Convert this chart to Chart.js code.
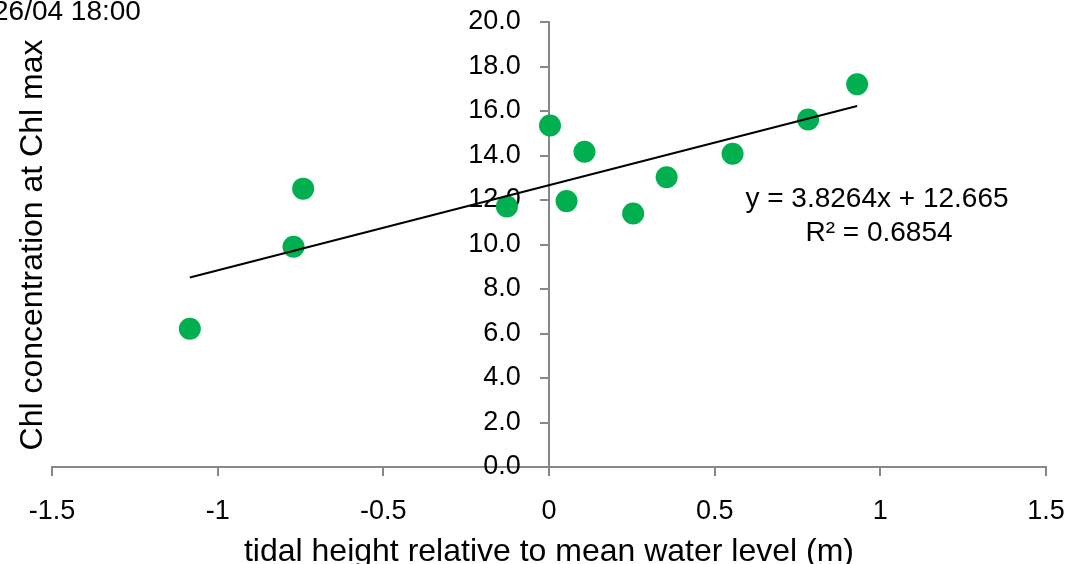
<!DOCTYPE html>
<html>
<head>
<meta charset="utf-8">
<script src="https://cdn.jsdelivr.net/npm/chart.js@4.4.1/dist/chart.umd.min.js"></script>
<style>
  body { margin: 0; background: #fff; }
  #wrap { width: 1082px; height: 564px; }
</style>
</head>
<body>
<div id="wrap"><canvas id="tideChart" width="1082" height="564"></canvas></div>
<script>
/* Data */
const tidal_height = [-1.084, -0.771, -0.742, -0.127, 0.003, 0.053, 0.107, 0.254, 0.355, 0.554, 0.782, 0.930];
const chl_conc = [6.21, 9.90, 12.51, 11.71, 15.35, 11.95, 14.17, 11.39, 13.02, 14.08, 15.62, 17.20];

const x_tick_values = [-1.5, -1, -0.5, 0, 0.5, 1, 1.5];
const x_tick_labels = ['-1.5', '-1', '-0.5', '0', '0.5', '1', '1.5'];
const y_tick_values = [0, 2, 4, 6, 8, 10, 12, 14, 16, 18, 20];
const y_tick_labels = ['0.0', '2.0', '4.0', '6.0', '8.0', '10.0', '12.0', '14.0', '16.0', '18.0', '20.0'];

// trendline as printed on the chart
const trend_slope = 3.8264;
const trend_intercept = 12.665;
const trend_r2 = '0.6854';

const stamp_text = '26/04 18:00';
const x_title = 'tidal height relative to mean water level (m)';
const y_title = 'Chl concentration at Chl max';

/* Document */
const chart_element = document.getElementById('tideChart');
const axis_grey = '#878787';
const font_name = '"Liberation Sans", Arial, sans-serif';

const buildTrend = () => {
  const x_min = Math.min(...tidal_height);
  const x_max = Math.max(...tidal_height);
  return [
    {x: x_min, y: trend_slope * x_min + trend_intercept},
    {x: x_max, y: trend_slope * x_max + trend_intercept}
  ];
};

const buildPoints = () => tidal_height.map((x, i) => ({x: x, y: chl_conc[i]}));

// text that is not tied to a scale: stamp, axis titles, trend equation
const textPlugin = {
  id: 'chartText',
  afterDraw: (chart) => {
    const ctx = chart.ctx;
    const area = chart.chartArea;
    ctx.save();
    ctx.fillStyle = '#000';
    ctx.textBaseline = 'alphabetic';

    ctx.font = '28px ' + font_name;
    ctx.textAlign = 'left';
    ctx.fillText(stamp_text, -7, 20);

    ctx.font = '32px ' + font_name;
    ctx.textAlign = 'center';
    ctx.fillText(x_title, (area.left + area.right) / 2, 561);

    ctx.translate(42, 245);
    ctx.rotate(-Math.PI / 2);
    ctx.fillText(y_title, 0, 0);
    ctx.restore();

    ctx.save();
    ctx.fillStyle = '#000';
    ctx.font = '28px ' + font_name;
    ctx.textAlign = 'center';
    ctx.textBaseline = 'alphabetic';
    ctx.fillText('y = ' + trend_slope + 'x + ' + trend_intercept, 877, 207);
    ctx.fillText('R\u00B2 = ' + trend_r2, 879, 241);
    ctx.restore();
  }
};

const tick_font = {family: font_name, size: 27};
const setYTicks = (axis) => { axis.ticks = y_tick_values.map(v => ({value: v})); };

const chart = new Chart(chart_element.getContext('2d'), {
  type: 'scatter',
  data: {
    datasets: [
      {
        type: 'line',
        label: 'trend',
        data: buildTrend(),
        borderColor: '#000',
        borderWidth: 2,
        pointRadius: 0,
        fill: false
      },
      {
        label: 'Chl',
        data: buildPoints(),
        backgroundColor: '#00B050',
        borderWidth: 0,
        pointRadius: 11
      }
    ]
  },
  options: {
    responsive: false,
    animation: false,
    events: [],
    layout: {padding: {left: 52, right: 36, top: 22, bottom: 97}},
    plugins: {legend: {display: false}, tooltip: {enabled: false}},
    scales: {
      x: {
        type: 'linear',
        position: {y: 0},
        min: -1.5,
        max: 1.5,
        afterBuildTicks: (axis) => { axis.ticks = x_tick_values.map(v => ({value: v})); },
        ticks: {
          color: '#000',
          font: {family: font_name, size: 27, lineHeight: 1.7},
          padding: 14,
          maxRotation: 0,
          callback: (value) => x_tick_labels[x_tick_values.indexOf(value)]
        },
        grid: {drawOnChartArea: false, tickLength: 8, color: axis_grey, lineWidth: 2},
        border: {color: axis_grey, width: 2}
      },
      // axis line and tick marks at x = 0
      y: {
        type: 'linear',
        position: {x: 0},
        min: 0,
        max: 20,
        afterBuildTicks: setYTicks,
        ticks: {display: false, padding: 0},
        grid: {drawOnChartArea: false, tickLength: 8, color: axis_grey, lineWidth: 2},
        border: {color: axis_grey, width: 2}
      },
      // tick labels, set a little left of the axis line
      y_labels: {
        type: 'linear',
        axis: 'y',
        position: {x: -0.085},
        min: 0,
        max: 20,
        afterBuildTicks: setYTicks,
        ticks: {
          color: '#000',
          font: tick_font,
          padding: 0,
          callback: (value) => y_tick_labels[y_tick_values.indexOf(value)]
        },
        grid: {display: false},
        border: {display: false}
      }
    }
  },
  plugins: [textPlugin]
});
</script>
</body>
</html>
